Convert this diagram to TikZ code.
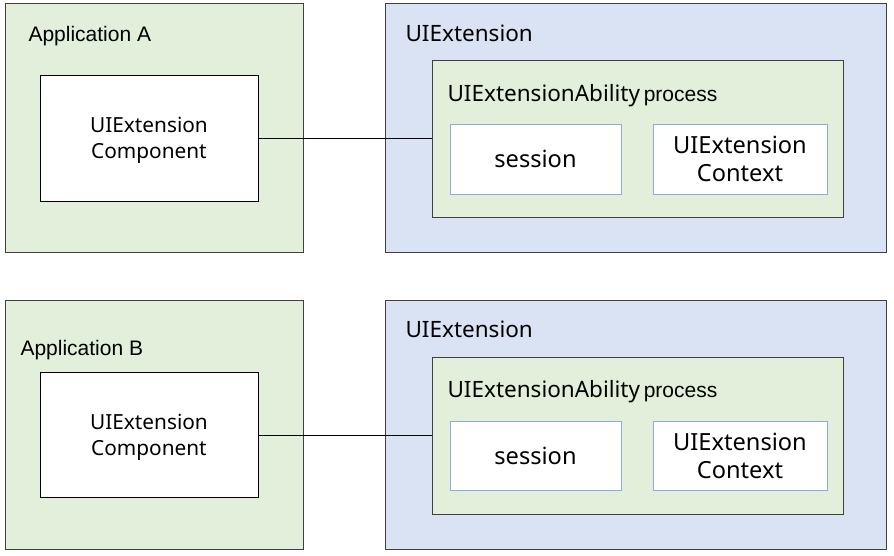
\documentclass[tikz,border=0pt]{standalone}
\usepackage{fontspec}
\setmainfont{Liberation Sans}
\newfontfamily\uifont{Noto Sans}
\definecolor{appgreen}{HTML}{E2EFDA}
\definecolor{extblue}{HTML}{DAE3F3}
\definecolor{edgegray}{HTML}{404040}
\definecolor{cellblue}{HTML}{8FAADC}
\begin{document}
\begin{tikzpicture}[x=1pt,y=-1pt,
  panel/.style={draw=edgegray,line width=0.9pt},
  appbox/.style={panel,fill=appgreen},
  extbox/.style={panel,fill=extblue},
  procbox/.style={panel,fill=appgreen},
  compbox/.style={draw=black,line width=0.9pt,fill=white},
  cellbox/.style={draw=cellblue,line width=0.9pt,fill=white},
  applabel/.style={anchor=west,font=\fontsize{21}{24}\selectfont},
  extlabel/.style={anchor=west,font=\uifont\fontsize{22.5}{26}\selectfont},
  complabel/.style={align=center,font=\uifont\fontsize{20.8}{26}\selectfont},
  celllabel/.style={align=center,font=\uifont\fontsize{23.6}{28}\selectfont},
  link/.style={draw=black,line width=1pt}]
\useasboundingbox (0,0) rectangle (894,555);
\fill[white] (0,0) rectangle (894,555);

% ---- upper pair ----
\draw[appbox] (5,3) rectangle (303,252);
\node[applabel] (appA) at (25,36) {Application A};
\draw[compbox] (40,75) rectangle (258,201);
\node[complabel] (compA) at (149,140) {UIExtension\\Component};
\coordinate (compAr) at (258,138);

\draw[extbox] (385,3) rectangle (886,252);
\node[extlabel] (extA) at (402,33) {UIExtension};
\draw[procbox] (432,60) rectangle (843,217);
\node[extlabel] (procA) at (444,96) {UIExtensionAbility\,{\rmfamily\fontsize{21}{24}\selectfont process}};
\coordinate (procAl) at (432,138);
\draw[cellbox] (450,124) rectangle (621,194);
\node[celllabel] (sessA) at (535.5,159) {session};
\draw[cellbox] (653,124) rectangle (827,194);
\node[celllabel] (ctxA) at (740,159) {UIExtension\\Context};
\draw[link] (compAr) -- (procAl);

% ---- lower pair ----
\draw[appbox] (5,300) rectangle (303,549);
\node[applabel] (appB) at (17,350) {Application B};
\draw[compbox] (40,372) rectangle (258,497);
\node[complabel] (compB) at (149,437) {UIExtension\\Component};
\coordinate (compBr) at (258,435);

\draw[extbox] (385,300) rectangle (886,549);
\node[extlabel] (extB) at (402,329) {UIExtension};
\draw[procbox] (432,357) rectangle (843,514);
\node[extlabel] (procB) at (444,392) {UIExtensionAbility\,{\rmfamily\fontsize{21}{24}\selectfont process}};
\coordinate (procBl) at (432,435);
\draw[cellbox] (450,421) rectangle (621,490);
\node[celllabel] (sessB) at (535.5,455.5) {session};
\draw[cellbox] (653,421) rectangle (827,490);
\node[celllabel] (ctxB) at (740,455.5) {UIExtension\\Context};
\draw[link] (compBr) -- (procBl);
\end{tikzpicture}
\end{document}
